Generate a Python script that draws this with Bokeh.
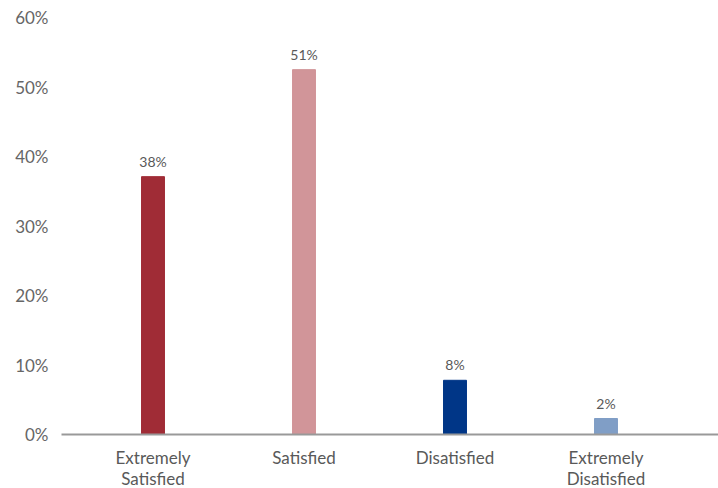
from bokeh.plotting import figure
from bokeh.models import Range1d, FixedTicker, ColumnDataSource
from bokeh.core.properties import value
from bokeh.embed import file_html
from bokeh.resources import INLINE

categories = ["Extremely\nSatisfied", "Satisfied", "Disatisfied", "Extremely\nDisatisfied"]
bar_values = [37.1, 52.5, 7.8, 2.3]
bar_labels = ["38%", "51%", "8%", "2%"]
bar_colors = ["#A02C36", "#D19599", "#003687", "#809EC6"]
y_ticks = [0, 10, 20, 30, 40, 50, 60]

FONT = "Lato"
xs = list(range(len(categories)))

p = figure(frame_width=657, frame_height=417, output_backend="svg", toolbar_location=None,
           x_range=Range1d(-0.606, 3.745), y_range=Range1d(0, 60),
           min_border_left=61, min_border_right=0, min_border_top=17, min_border_bottom=54)
p.outline_line_color = None
p.xgrid.visible = False
p.ygrid.visible = False
p.background_fill_color = "white"
p.border_fill_color = "white"

src = ColumnDataSource(dict(x=xs, top=bar_values, color=bar_colors, label=bar_labels))
p.vbar(x="x", top="top", bottom=0, width=0.152, color="color", source=src)
p.text(x="x", y="top", text="label", source=src, text_align="center", text_baseline="bottom",
       y_offset=-7, text_font=value(FONT), text_font_size="14px", text_color="#595959")

p.xaxis.ticker = FixedTicker(ticks=xs)
p.xaxis.major_label_overrides = {i: c for i, c in enumerate(categories)}
p.xaxis.axis_line_color = "#999999"
p.xaxis.axis_line_width = 2
p.xaxis.major_tick_line_color = None
p.xaxis.minor_tick_line_color = None
p.xaxis.major_tick_out = 0
p.xaxis.major_tick_in = 0
p.xaxis.major_label_text_font = FONT
p.xaxis.major_label_text_font_size = "17px"
p.xaxis.major_label_text_line_height = 1.0
p.xaxis.major_label_text_color = "#595959"
p.xaxis.major_label_standoff = 12

p.yaxis.ticker = FixedTicker(ticks=y_ticks)
p.yaxis.major_label_overrides = {t: f"{t}%" for t in y_ticks}
p.yaxis.axis_line_color = None
p.yaxis.major_tick_line_color = None
p.yaxis.minor_tick_line_color = None
p.yaxis.major_tick_out = 0
p.yaxis.major_tick_in = 0
p.yaxis.major_label_text_font = FONT
p.yaxis.major_label_text_font_size = "17px"
p.yaxis.major_label_text_color = "#666666"
p.yaxis.major_label_standoff = 13

open("out.html", "w").write(file_html(p, INLINE))
